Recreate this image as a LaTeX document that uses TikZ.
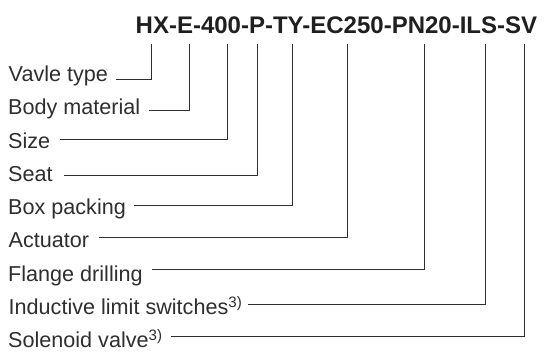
\documentclass[tikz,border=0pt]{standalone}
\usepackage{fontspec}
\setmainfont{Liberation Sans}
\begin{document}
\begin{tikzpicture}[x=1pt,y=-1pt,
  lbl/.style={anchor=base west,inner sep=0pt,font=\fontsize{21.6}{24}\selectfont,text=black!82},
  ttl/.style={anchor=base west,inner sep=0pt,font=\fontsize{24}{28}\selectfont\bfseries,text=black!88},
  lead/.style={draw=black!82,line width=1.4pt}]
\useasboundingbox (0,0) rectangle (547,352);
\node[ttl] (title) at (135.5,33.3) {HX-E-400-P-TY-EC250-PN20-ILS-SV};
% tops of the leader lines
\coordinate (t1) at (151.5,44);
\coordinate (t2) at (189.5,44);
\coordinate (t3) at (227.5,44);
\coordinate (t4) at (257.5,44);
\coordinate (t5) at (292.5,44);
\coordinate (t6) at (347.5,44);
\coordinate (t7) at (424.5,44);
\coordinate (t8) at (485.5,44);
\coordinate (t9) at (524.5,44);
% rows of the horizontal lines
\coordinate (r1) at (0,79.5);
\coordinate (r2) at (0,110.5);
\coordinate (r3) at (0,139.5);
\coordinate (r4) at (0,175.5);
\coordinate (r5) at (0,205.5);
\coordinate (r6) at (0,237.5);
\coordinate (r7) at (0,269.5);
\coordinate (r8) at (0,304.5);
\coordinate (r9) at (0,336.5);
% labels
\node[lbl] (l1) at (8.5,81.5) {Vavle type};
\node[lbl] (l2) at (8,115) {Body material};
\node[lbl] (l3) at (8,148.5) {Size};
\node[lbl] (l4) at (8,182) {Seat};
\node[lbl] (l5) at (8,215) {Box packing};
\node[lbl] (l6) at (8.5,248) {Actuator};
\node[lbl] (l7) at (8,281.5) {Flange drilling};
\node[lbl] (l8) at (8.5,315) {Inductive limit switches\textsuperscript{3)}};
\node[lbl] (l9) at (8,348) {Solenoid valve\textsuperscript{3)}};
% leaders
\draw[lead] ([xshift=8pt]l1.base east |- r1) -| (t1);
\draw[lead] ([xshift=9pt]l2.base east |- r2) -| (t2);
\draw[lead] ([xshift=10pt]l3.base east |- r3) -| (t3);
\draw[lead] ([xshift=11pt]l4.base east |- r4) -| (t4);
\draw[lead] ([xshift=8pt]l5.base east |- r5) -| (t5);
\draw[lead] ([xshift=10pt]l6.base east |- r6) -| (t6);
\draw[lead] ([xshift=9pt]l7.base east |- r7) -| (t7);
\draw[lead] ([xshift=5pt]l8.base east |- r8) -| (t8);
\draw[lead] ([xshift=8pt]l9.base east |- r9) -| (t9);
\end{tikzpicture}
\end{document}
